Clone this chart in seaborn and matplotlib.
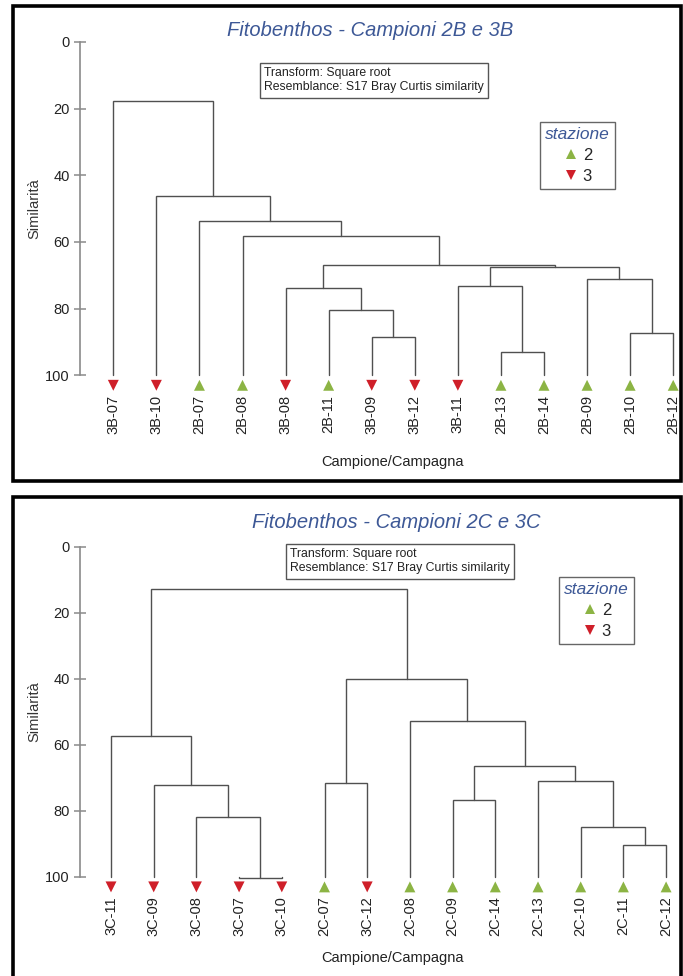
import numpy as np
import pandas as pd
import matplotlib
matplotlib.use("Agg")
import matplotlib.pyplot as plt
from matplotlib.patches import Rectangle
import seaborn as sns

# --- dati: campioni 2B / 3B (ordine delle foglie del dendrogramma)
campioni_B = ["3B-07", "3B-10", "2B-07", "2B-08", "3B-08", "2B-11", "3B-09",
              "3B-12", "3B-11", "2B-13", "2B-14", "2B-09", "2B-10", "2B-12"]
stazione_B = ["3", "3", "2", "2", "3", "2", "3", "3", "3", "2", "2", "2", "2", "2"]
# fusioni: (nome nodo, figlio 1, figlio 2, similarita %)
fusioni_B = [
    ("a", "3B-09", "3B-12", 88.6),
    ("b", "2B-11", "a", 80.5),
    ("c", "3B-08", "b", 73.9),
    ("d", "2B-13", "2B-14", 92.9),
    ("e", "3B-11", "d", 73.1),
    ("f", "2B-10", "2B-12", 87.2),
    ("g", "2B-09", "f", 71.0),
    ("h", "e", "g", 67.4),
    ("i", "c", "h", 66.8),
    ("j", "2B-08", "i", 58.1),
    ("k", "2B-07", "j", 53.7),
    ("l", "3B-10", "k", 46.3),
    ("m", "3B-07", "l", 17.6),
]

# --- dati: campioni 2C / 3C
campioni_C = ["3C-11", "3C-09", "3C-08", "3C-07", "3C-10", "2C-07", "3C-12",
              "2C-08", "2C-09", "2C-14", "2C-13", "2C-10", "2C-11", "2C-12"]
stazione_C = ["3", "3", "3", "3", "3", "2", "3", "2", "2", "2", "2", "2", "2", "2"]
fusioni_C = [
    ("a", "3C-07", "3C-10", 100.3),
    ("b", "3C-08", "a", 81.8),
    ("c", "3C-09", "b", 72.0),
    ("d", "3C-11", "c", 57.3),
    ("e", "2C-07", "3C-12", 71.4),
    ("f", "2C-11", "2C-12", 90.3),
    ("g", "2C-10", "f", 84.9),
    ("h", "2C-13", "g", 70.9),
    ("i", "2C-09", "2C-14", 76.6),
    ("j", "i", "h", 66.4),
    ("k", "2C-08", "j", 52.6),
    ("l", "e", "k", 39.9),
    ("m", "d", "l", 12.6),
]

titoli = ["Fitobenthos - Campioni 2B e 3B", "Fitobenthos - Campioni 2C e 3C"]
nota = "Transform: Square root\nResemblance: S17 Bray Curtis similarity"

W, H = 683, 976
def fx(x):
    return x / W
def fy(y):
    return 1 - y / H

sns.set_theme(style="white")
plt.rcParams['font.family'] = ['Liberation Sans', 'DejaVu Sans']

verde = "#8cb444"
rosso = "#cf1f29"
blu = "#3d5896"
grigio = "#8a8a8a"
linea = "#505050"

fig = plt.figure(figsize=(W / 100, H / 100), dpi=100)
fig.patch.set_facecolor("white")


def dendro(ax, campioni, stazione, fusioni):
    pos = {c: float(i) for i, c in enumerate(campioni)}
    alt = {c: 100.0 for c in campioni}
    for nome, c1, c2, s in fusioni:
        x1, x2 = pos[c1], pos[c2]
        ax.plot([x1, x1, x2, x2], [alt[c1], s, s, alt[c2]], color=linea, lw=1.0,
                solid_joinstyle="miter")
        pos[nome] = (x1 + x2) / 2
        alt[nome] = s

    df = pd.DataFrame({"x": np.arange(len(campioni)), "y": 103.0,
                       "stazione": stazione})
    sns.scatterplot(data=df, x="x", y="y", hue="stazione", style="stazione",
                    hue_order=["2", "3"], style_order=["2", "3"],
                    palette={"2": verde, "3": rosso}, markers={"2": "^", "3": "v"},
                    s=62, linewidth=0, clip_on=False, ax=ax, zorder=3)

    ax.set_ylim(105, 0)
    ax.set_yticks([0, 20, 40, 60, 80, 100])
    ax.set_xticks(range(len(campioni)))
    ax.set_xticklabels(campioni, rotation=90, fontsize=10.5, color="#222222")
    ax.tick_params(axis="x", length=0, pad=2)
    ax.tick_params(axis="y", direction="inout", length=9, width=1.1, color=grigio,
                   labelsize=10.5, labelcolor="#222222", left=True, pad=3)
    for sp in ["top", "right", "bottom"]:
        ax.spines[sp].set_visible(False)
    ax.spines["left"].set_bounds(0, 100)
    ax.spines["left"].set_color(grigio)
    ax.spines["left"].set_linewidth(1.2)
    ax.set_xlabel("")
    ax.set_ylabel("")
    ax.set_facecolor("white")


pannelli = [
    # dati, y px di 0, px per unita, x px prima foglia, passo, cornice
    (campioni_B, stazione_B, fusioni_B, 42, 3.333, 113.3, 43.07, (6, 481)),
    (campioni_C, stazione_C, fusioni_C, 547, 3.30, 111.0, 42.7, (497, 995)),
]
pos_titolo = [(370, 31), (396, 522)]
pos_nota = [(264, 67), (290, 548)]
pos_leg = [(540, 122), (559, 577)]
pos_xlab = [462, 958]

asse_x = 80
for n, (camp, staz, fus, y0, k, x0, passo, cornice) in enumerate(pannelli):
    y_bot = y0 + 105 * k
    ax = fig.add_axes([fx(asse_x), fy(y_bot), fx(683) - fx(asse_x), (y_bot - y0) / H])
    dendro(ax, camp, staz, fus)
    ax.set_xlim((asse_x - x0) / passo, (683 - x0) / passo)

    # cornice nera
    fig.patches.append(Rectangle((fx(13), fy(cornice[1])), fx(681) - fx(13),
                                 (cornice[1] - cornice[0]) / H, transform=fig.transFigure,
                                 fill=False, lw=2.6, ec="black", zorder=10))

    fig.text(fx(pos_titolo[n][0]), fy(pos_titolo[n][1]), titoli[n], ha="center",
             va="center", fontsize=14.5, style="italic", color=blu)
    fig.text(fx(pos_nota[n][0]), fy(pos_nota[n][1]), nota, ha="left", va="top",
             fontsize=8.8, color="#222222", linespacing=1.25,
             bbox=dict(boxstyle="square,pad=0.35", fc="white", ec="#555555", lw=1))
    fig.text(fx(34), fy(y0 + 50 * k), "Similarità", rotation=90, ha="center",
             va="center", fontsize=10.5, color="#333333")
    fig.text(fx(392), fy(pos_xlab[n]), "Campione/Campagna", ha="center",
             va="center", fontsize=10.5, color="#222222")

    sns.move_legend(ax, "upper left", bbox_to_anchor=(fx(pos_leg[n][0]), fy(pos_leg[n][1])),
                    bbox_transform=fig.transFigure, title="stazione", frameon=True,
                    fontsize=12, title_fontsize=12.5, handletextpad=0.2,
                    borderpad=0.3, labelspacing=0.35, handlelength=1.0,
                    markerscale=0.95, borderaxespad=0)
    leg = ax.get_legend()
    leg.get_title().set_fontstyle("italic")
    leg.get_title().set_color(blu)
    fr = leg.get_frame()
    fr.set_boxstyle("square", pad=0)
    fr.set_edgecolor("#666666")
    fr.set_linewidth(1.0)
    fr.set_alpha(1)
    leg._legend_box.align = "center"

fig.savefig("out.png", dpi=100, facecolor="white")
